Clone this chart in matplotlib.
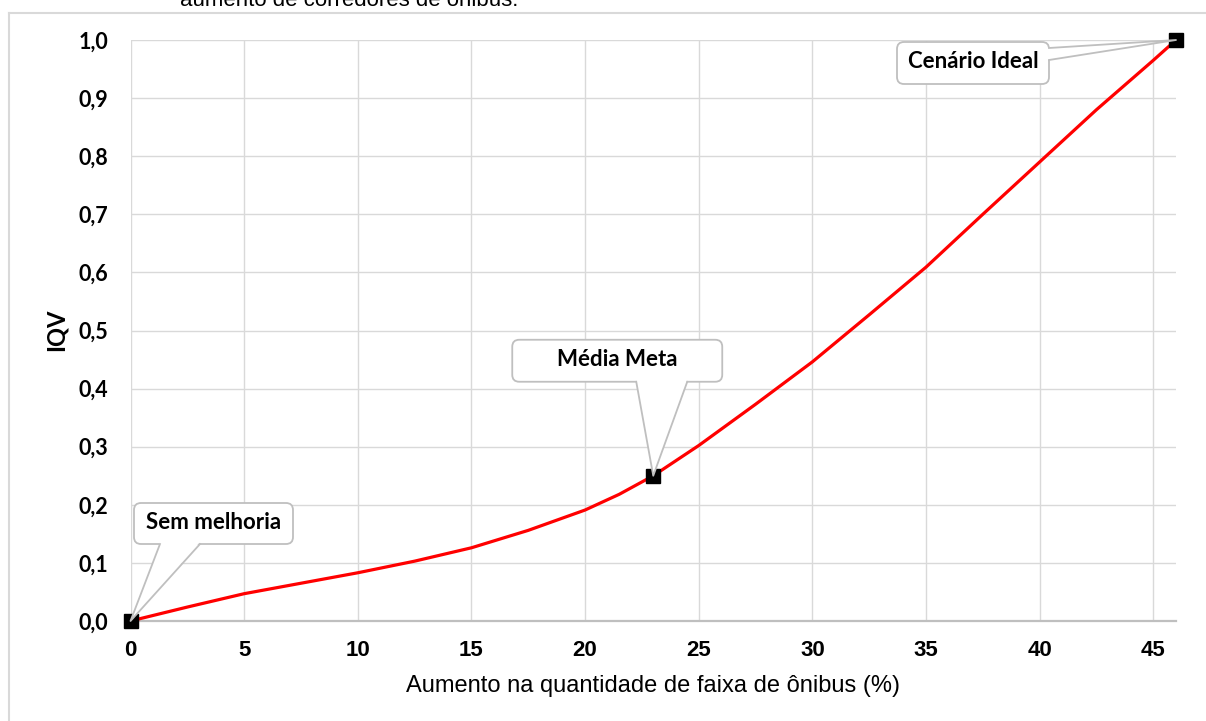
import numpy as np
import matplotlib
matplotlib.use("Agg")
from matplotlib import pyplot as plt
from matplotlib.patches import FancyBboxPatch, Polygon
from matplotlib.lines import Line2D
from matplotlib.transforms import IdentityTransform

# curve
x = [0, 2.5, 5, 7.5, 10, 12.5, 15, 17.5, 20, 21.5, 23, 25, 27.5, 30, 32.5, 35,
     37.5, 40, 42.5, 45, 46]
y = [0, 0.024, 0.047, 0.065, 0.083, 0.103, 0.126, 0.156, 0.191, 0.218, 0.25, 0.302,
     0.373, 0.446, 0.527, 0.609, 0.700, 0.790, 0.880, 0.965, 1.0]

# marked points
px = [0, 23, 46]
py = [0, 0.25, 1.0]
labels = ["Sem melhoria", "Média Meta", "Cenário Ideal"]

xticks = list(range(0, 46, 5))
yticks = [i/10 for i in range(11)]

W, H = 1206, 721
fig = plt.figure(figsize=(W/100, H/100), dpi=100)
ax = fig.add_axes([130.5/W, 1-621/H, (1176-130.5)/W, (621-40)/H])

ax.set_xlim(0, 46)
ax.set_ylim(0, 1)
ax.set_xticks(xticks)
ax.set_yticks(yticks)
ax.set_xticklabels([str(t) for t in xticks], fontfamily="Liberation Sans", fontweight="bold", fontsize=16)
ax.set_yticklabels([("%.1f" % t).replace(".", ",") for t in yticks], fontfamily="Lato", fontweight="bold", fontsize=15.5)
ax.tick_params(length=0)
ax.tick_params(axis="x", pad=13.5)
ax.tick_params(axis="y", pad=16)
ax.grid(color="#d9d9d9", linewidth=1.0)
ax.set_axisbelow(True)
for s in ["top", "right", "left"]:
    ax.spines[s].set_visible(False)
ax.spines["bottom"].set_color("#bfbfbf")
ax.spines["bottom"].set_linewidth(1.6)

ax.plot(x, y, color="#ff0000", linewidth=2.3, zorder=3)
ax.plot(px, py, "s", color="black", markersize=9.5, zorder=4, clip_on=False)

fig.text(653/W, 1-692/H, "Aumento na quantidade de faixa de ônibus (%)", ha="center", va="baseline",
         fontfamily="Liberation Sans", fontsize=17)
fig.text(56/W, 1-330/H, "IQV", ha="center", va="center", rotation=90,
         fontfamily="Lato", fontweight="bold", fontsize=17)

# cut caption at the top and outer frame
fig.text(180/W, 1-6/H, "aumento de corredores de ônibus.", ha="left", va="baseline",
         fontfamily="Liberation Sans", fontsize=16)
fig.add_artist(Line2D([9/W, 9/W], [0, 1-13/H], color="#d9d9d9", linewidth=1.5))
fig.add_artist(Line2D([9/W, 1], [1-13/H, 1-13/H], color="#d9d9d9", linewidth=1.5))

# callouts: box centre offset (px), box size, wedge base (offsets from box centre)
offs = [(83, 97.5), (-36, 115), (-203, -23)]
sizes = [(159, 41), (210, 42), (152, 42)]
bases = [((-53.5, -20.5), (-13.5, -20.5)), ((19, -21), (70, -21)), ((76, 15), (76, 3))]

fig.canvas.draw()
idt = IdentityTransform()
ec = "#bfbfbf"
for i in range(3):
    tx, ty = ax.transData.transform((px[i], py[i]))
    cx, cy = tx + offs[i][0], ty + offs[i][1]
    w, h = sizes[i]
    box = FancyBboxPatch((cx - w/2, cy - h/2), w, h, boxstyle="round,pad=0,rounding_size=7",
                         fc="white", ec=ec, lw=1.3, transform=idt, zorder=6, clip_on=False)
    fig.add_artist(box)
    (b1x, b1y), (b2x, b2y) = bases[i]
    # push the base a bit into the box so the fill hides the box edge there
    if abs(b1y - b2y) < 1e-6:
        sgn = 1 if b1y < 0 else -1
        ins = [(cx + b1x, cy + b1y + 2*sgn), (cx + b2x, cy + b2y + 2*sgn)]
    else:
        ins = [(cx + b1x - 2, cy + b1y), (cx + b2x - 2, cy + b2y)]
    wedge = Polygon([ins[0], ins[1], (tx, ty)], closed=True, fc="white", ec="none",
                    transform=idt, zorder=7, clip_on=False)
    fig.add_artist(wedge)
    fig.add_artist(Line2D([cx + b1x, tx, cx + b2x], [cy + b1y, ty, cy + b2y], color=ec,
                          linewidth=1.3, transform=idt, zorder=7))
    fig.text(cx, cy + 1, labels[i], ha="center", va="center", fontfamily="Lato", fontweight="bold",
             fontsize=16, transform=idt, zorder=8)

fig.savefig("out.png", dpi=100)
